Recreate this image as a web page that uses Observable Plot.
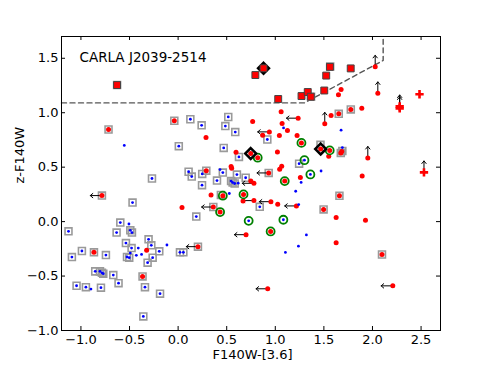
<!DOCTYPE html>
<html><head><meta charset="utf-8">
<script src="https://cdn.jsdelivr.net/npm/d3@7"></script>
<script src="https://cdn.jsdelivr.net/npm/@observablehq/plot@0.6"></script>
<style>body{margin:0;background:#fff} svg{font-family:"DejaVu Sans"}</style>
</head><body><div id="chart"></div>
<script>
const titleText = "CARLA J2039-2514";
const xLabel = "F140W-[3.6]";
const yLabel = "z-F140W";
const xTicks = [-1.0, -0.5, 0.0, 0.5, 1.0, 1.5, 2.0, 2.5];
const yTicks = [-1.0, -0.5, 0.0, 0.5, 1.0, 1.5];

// selection boundary (dashed)
const dashLine = [[-1.2, 1.09], [1.30, 1.09], [2.11, 1.48], [2.11, 1.70]];

const redDots = [
[-0.716,0.846],[-0.039,0.926],[0.287,0.773],[0.767,0.920],[1.235,0.950],[1.060,1.008],[1.070,0.900],[1.125,0.837],[1.042,0.791],[0.939,0.824],[0.870,0.794],[1.224,0.791],[1.269,0.723],[1.022,0.640],[0.747,0.625],[0.819,0.587],[0.596,0.638],[0.545,0.505],[0.551,0.490],[0.290,0.468],[0.932,0.447],[0.748,0.372],[0.780,0.352],[1.066,0.509],[1.045,0.482],[1.097,0.372],[1.258,0.405],[0.339,0.245],[0.460,0.238],[0.673,0.250],[0.668,0.190],[0.780,0.193],[0.955,0.183],[1.025,0.160],[1.217,0.144],[0.362,0.134],[0.040,0.129],[0.432,0.088],[0.952,-0.090],[0.699,-0.120],[0.204,-0.230],[0.922,-0.617],[-0.784,0.239],[-0.866,-0.282],[-0.324,-0.262],[-0.366,-0.503],[1.660,0.237],[1.497,0.112],[1.626,0.037],[1.928,0.012],[1.626,-0.194],[2.098,-0.302],[2.209,-0.590],[1.894,0.420],[1.560,0.654],[1.550,0.601],[1.674,0.631],[1.684,0.644],[1.467,0.667],[1.952,0.585],[1.509,0.898],[1.574,0.975],[1.653,0.990],[1.777,1.030],[1.890,1.042],[1.650,1.165],[1.677,1.214],[2.028,1.422],[2.055,1.178]
];

const blueDots = [
[-0.554,0.700],[0.126,0.940],[0.242,0.884],[0.516,0.961],[0.486,0.877],[0.588,0.822],[0.007,0.693],[0.469,0.677],[1.085,0.860],[0.918,0.754],[0.626,0.594],[0.108,0.458],[0.140,0.414],[0.248,0.438],[0.246,0.335],[0.400,0.377],[0.431,0.478],[0.460,0.450],[0.545,0.372],[0.561,0.359],[0.582,0.350],[0.605,0.432],[0.695,0.403],[0.618,0.353],[0.527,0.258],[0.187,0.046],[0.726,0.007],[1.083,0.017],[0.840,0.136],[1.241,0.156],[1.210,0.279],[1.266,0.360],[1.361,0.433],[1.471,0.465],[1.300,0.564],[1.245,0.532],[1.320,-0.122],[1.238,-0.226],[1.104,-0.283],[1.677,0.840],[1.690,0.680],[-0.469,0.175],[-0.269,0.396],[-1.128,-0.089],[-0.595,-0.009],[-0.506,-0.022],[-0.633,-0.101],[-0.492,-0.080],[-0.475,-0.101],[-0.537,-0.197],[-0.479,-0.243],[-0.410,-0.243],[-0.304,-0.163],[-0.276,-0.218],[-0.376,-0.301],[-0.526,-0.325],[-0.503,-0.331],[-0.430,-0.310],[-0.492,-0.289],[-0.262,-0.331],[-0.194,-0.273],[-0.115,-0.215],[-0.314,-0.377],[0.019,-0.282],[0.054,-0.282],[-1.093,-0.326],[-0.990,-0.270],[-0.743,-0.307],[-0.853,-0.457],[-0.804,-0.457],[-0.784,-0.470],[-0.770,-0.478],[-0.667,-0.491],[-0.613,-0.565],[-1.045,-0.589],[-0.949,-0.602],[-0.897,-0.620],[-0.794,-0.607],[-0.341,-0.602],[-0.186,-0.662],[-0.358,-0.871]
];

const grayBoxes = [
[-0.716,0.846],[-0.039,0.926],[0.290,0.468],[0.932,0.447],[0.440,0.245],[0.362,0.134],[0.204,-0.230],[-0.784,0.239],[-0.866,-0.282],[-0.366,-0.503],[1.660,0.237],[1.497,0.112],[2.098,-0.302],[1.674,0.631],[1.690,0.648],[1.653,0.990],[1.777,1.030],[-0.628,1.254],[1.368,1.147],[1.565,1.425],[1.465,0.705],
[0.126,0.940],[0.242,0.884],[0.516,0.961],[0.486,0.877],[0.588,0.822],[0.007,0.693],[0.469,0.677],[0.918,0.754],[0.626,0.594],[0.108,0.458],[0.140,0.414],[0.248,0.438],[0.246,0.335],[0.400,0.377],[0.460,0.450],[0.545,0.372],[0.561,0.359],[0.582,0.350],[0.605,0.432],[0.695,0.403],[0.187,0.046],[0.840,0.136],[1.245,0.532],[-0.469,0.175],[-0.269,0.396],[-1.128,-0.089],[-0.595,-0.009],[-0.633,-0.101],[-0.492,-0.080],[-0.475,-0.101],[-0.537,-0.197],[-0.479,-0.243],[-0.304,-0.163],[-0.276,-0.218],[-0.526,-0.325],[-0.503,-0.331],[-0.262,-0.331],[-0.194,-0.273],[-0.314,-0.377],[0.019,-0.282],[0.054,-0.282],[-1.093,-0.326],[-0.990,-0.270],[-0.743,-0.307],[-0.853,-0.457],[-0.804,-0.457],[-0.784,-0.470],[-0.770,-0.478],[-0.667,-0.491],[-0.613,-0.565],[-1.045,-0.589],[-0.949,-0.602],[-0.794,-0.607],[-0.341,-0.602],[-0.186,-0.662],[-0.358,-0.871]
];

const greenRings = [
[1.269,0.723],[0.819,0.587],[1.097,0.372],[0.460,0.238],[0.673,0.250],[0.432,0.088],[0.952,-0.090],[0.726,0.007],[1.083,0.017],[1.361,0.433],[1.300,0.564],[1.560,0.654]
];

const blackDiamonds = [[0.879,1.408],[0.747,0.625],[1.467,0.667]];

const redSquares = [
[-0.628,1.254],[0.795,1.346],[0.879,1.408],[1.030,1.126],[1.270,1.153],[1.334,1.190],[1.365,1.147],[1.504,1.204],[1.524,1.341],[1.562,1.421],[1.776,1.407]
];

const redPluses = [[2.484,1.170],[2.280,1.058],[2.280,1.040],[2.530,0.452]];

const leftLimits = [
[1.235,0.950],[0.939,0.824],[0.932,0.447],[0.780,0.352],[0.780,0.193],[0.955,0.183],[1.217,0.144],[0.362,0.134],[0.699,-0.120],[0.204,-0.230],[0.922,-0.617],[-0.784,0.239],[2.209,-0.590]
];

const upLimits = [[2.028,1.422],[2.055,1.178],[1.509,0.898],[1.952,0.585],[2.280,1.058],[2.280,1.040],[2.530,0.452]];

const W = 489, H = 367, mL = 61, mR = 49, mT = 36, mB = 37;
const fw = W - mL - mR, fh = H - mT - mB;
const leftLen = 0.12, upLen = 0.105;
const fmt = d => d.toFixed(1).replace("-", "\u2212");
const font = "DejaVu Sans";

const chart = Plot.plot({
  width: W, height: H,
  marginLeft: mL, marginRight: mR, marginTop: mT, marginBottom: mB,
  x: {domain: [-1.2, 2.7]},
  y: {domain: [-1.0, 1.7]},
  style: {fontFamily: font, fontSize: "13px", color: "black", background: "white"},
  marks: [
    Plot.axisX({ticks: xTicks, tickSize: 0, tickPadding: 4, tickFormat: fmt, label: null, fontSize: 13}),
    Plot.axisY({ticks: yTicks, tickSize: 0, tickPadding: 3, tickFormat: fmt, label: null, fontSize: 13}),
    Plot.tickX(xTicks, {x: d => d, insetTop: fh - 4, stroke: "black"}),
    Plot.tickX(xTicks, {x: d => d, insetBottom: fh - 4, stroke: "black"}),
    Plot.tickY(yTicks, {y: d => d, insetRight: fw - 4, stroke: "black"}),
    Plot.tickY(yTicks, {y: d => d, insetLeft: fw - 4, stroke: "black"}),
    Plot.line(dashLine, {x: d => d[0], y: d => d[1], stroke: "#555", strokeWidth: 1.4, strokeDasharray: "5,3.5"}),
    Plot.dot(grayBoxes, {x: d => d[0], y: d => d[1], symbol: "square", r: 3.9, fill: "none", stroke: "#9a9a9a", strokeWidth: 1.6}),
    Plot.arrow(leftLimits, {x1: d => d[0], y1: d => d[1], x2: d => d[0] - leftLen, y2: d => d[1], stroke: "black", strokeWidth: 1, headLength: 5, headAngle: 80}),
    Plot.arrow(upLimits, {x1: d => d[0], y1: d => d[1], x2: d => d[0], y2: d => d[1] + upLen, stroke: "black", strokeWidth: 1, headLength: 5, headAngle: 80}),
    Plot.dot(redDots, {x: d => d[0], y: d => d[1], r: 2.5, fill: "#ff0000", stroke: "none"}),
    Plot.dot(blueDots, {x: d => d[0], y: d => d[1], r: 1.4, fill: "#0000ff", stroke: "none"}),
    Plot.dot(greenRings, {x: d => d[0], y: d => d[1], r: 4, fill: "none", stroke: "#008000", strokeWidth: 1.8}),
    Plot.dot(blackDiamonds, {x: d => d[0], y: d => d[1], symbol: "diamond2", r: 4.9, fill: "none", stroke: "black", strokeWidth: 2.5}),
    Plot.dot(redSquares, {x: d => d[0], y: d => d[1], symbol: "square", r: 3.9, fill: "#ff0000", stroke: "#444", strokeWidth: 1}),
    Plot.dot(redPluses, {x: d => d[0], y: d => d[1], symbol: "plus", r: 2.8, stroke: "#ff0000", strokeWidth: 2.6}),
    Plot.frame({stroke: "black", strokeWidth: 1}),
    Plot.text([titleText], {text: d => d, frameAnchor: "top-left", textAnchor: "start", lineAnchor: "top", dx: 18, dy: 16.4, fontSize: 13.5, fill: "black"}),
    Plot.text([xLabel], {text: d => d, frameAnchor: "bottom", lineAnchor: "middle", dy: 24.5, dx: 1.5, fontSize: 13, fill: "black"}),
    Plot.text([yLabel], {text: d => d, frameAnchor: "left", lineAnchor: "middle", rotate: -90, dx: -42, fontSize: 13, fill: "black"})
  ]
});
document.getElementById("chart").appendChild(chart);
</script>
</body></html>
